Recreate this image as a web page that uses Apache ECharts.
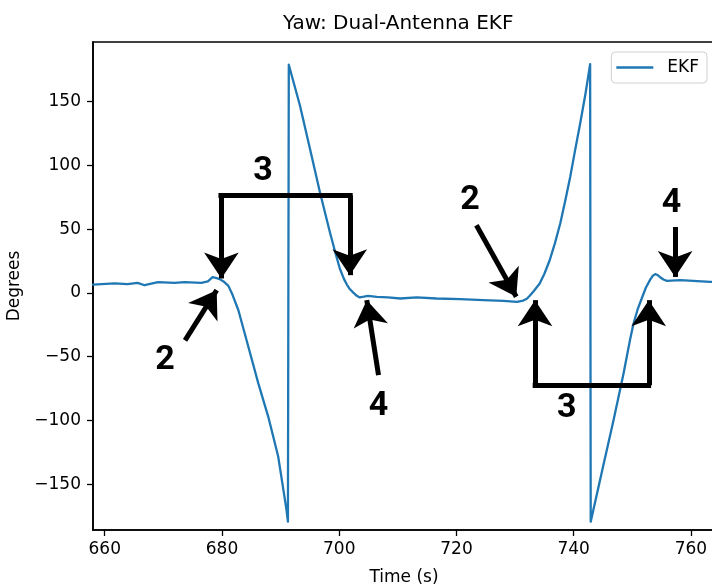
<!DOCTYPE html>
<html>
<head>
<meta charset="utf-8">
<script src="https://cdn.jsdelivr.net/npm/echarts@6/dist/echarts.min.js"></script>
<style>
html,body{margin:0;padding:0;background:#fff;}
#chart{width:712px;height:588px;}
</style>
</head>
<body>
<div id="chart"></div>
<script>
// ---- data ----
const timeValues = [658.0, 658.3, 661.7, 663.9, 665.6, 666.8, 669.1, 671.9, 673.6, 676.5, 677.6, 678.4, 679.1, 679.6, 680.4, 681.1, 681.8, 682.8, 684.5, 686.2, 687.9, 689.6, 691.0, 691.25, 691.4, 693.3, 695.0, 696.7, 698.4, 699.4, 700.1, 700.8, 701.3, 701.8, 702.4, 703.0, 703.5, 704.2, 704.9, 706.4, 708.3, 710.4, 713.2, 716.6, 720.6, 724.6, 728.0, 730.3, 731.4, 732.0, 732.5, 733.2, 734.2, 735.0, 735.9, 736.8, 737.7, 738.5, 739.4, 740.2, 741.1, 742.0, 742.8, 742.9, 745.0, 746.8, 748.5, 749.6, 750.2, 750.9, 751.6, 752.3, 753.0, 753.5, 753.9, 754.3, 754.7, 755.3, 755.9, 758.2, 760.4, 763.3, 764.1];
const yawValues = [6.5, 6.6, 7.4, 6.8, 7.8, 6.0, 8.4, 7.8, 8.4, 7.8, 9.0, 12.3, 11.5, 10.8, 8.5, 5.5, -1.5, -13.6, -42.3, -71.0, -97.2, -128.6, -170.0, -179.5, 179.0, 147.0, 113.2, 79.2, 47.8, 30.5, 19.1, 11.0, 6.5, 3.0, 0.2, -2.3, -3.6, -3.0, -2.3, -3.1, -3.6, -4.4, -3.6, -4.4, -4.9, -5.7, -6.3, -7.1, -6.0, -4.6, -2.2, 1.5, 7.4, 15.0, 25.6, 39.0, 54.4, 71.0, 90.9, 111.0, 132.8, 156.0, 179.5, -179.5, -136.4, -99.8, -63.2, -37.0, -24.0, -13.0, -4.4, 4.0, 10.0, 13.5, 14.7, 14.0, 12.5, 10.5, 9.4, 10.0, 9.4, 8.6, 8.8];
const xTicks = [660, 680, 700, 720, 740, 760];
const yTicks = [-150, -100, -50, 0, 50, 100, 150];
const seriesName = 'EKF';
const chartTitle = 'Yaw: Dual-Antenna EKF';
const xName = 'Time (s)';
const yName = 'Degrees';

// annotation geometry in data coordinates (time, degrees)
const bracketSegments = [
  [[679.4, 76.6], [702.3, 76.6]],
  [[733.0, -72.4], [753.2, -72.4]]
];
const arrowSegments = [
  [[679.9, 76.6], [679.9, 11.3]],
  [[701.8, 76.6], [701.8, 13.9]],
  [[673.7, -37.2], [679.1, 2.1]],
  [[706.7, -64.5], [704.7, -5.7]],
  [[733.4, -72.4], [733.4, -5.7]],
  [[752.8, -72.4], [752.8, -5.7]],
  [[723.4, 53.1], [730.2, -3.1]],
  [[757.3, 51.7], [757.3, 12.5]]
];
const annotationTexts = ['3', '2', '4', '2', '3', '4'];
const annotationX = [687.0, 670.3, 706.7, 722.3, 738.8, 756.7];
const annotationY = [94.9, -52.8, -89.4, 72.7, -90.6, 70.0];

// ---- chart ----
const FONT = 'DejaVu Sans';
const fmtMinus = v => String(v).replace('-', '\u2212');
const chart = echarts.init(document.getElementById('chart'), null, {renderer: 'canvas'});

const lineData = timeValues.map((t, i) => [t, yawValues[i]]);

const markLineData = [];
bracketSegments.forEach(s => {
  markLineData.push([{coord: s[0], symbol: 'none'}, {coord: s[1], symbol: 'none'}]);
});
arrowSegments.forEach(s => {
  markLineData.push([{coord: s[0], symbol: 'none'}, {coord: s[1], symbol: 'arrow', symbolSize: 26}]);
});

const markPointData = annotationTexts.map((txt, i) => ({
  name: txt,
  coord: [annotationX[i], annotationY[i]],
  value: txt
}));

chart.setOption({
  animation: false,
  backgroundColor: '#fff',
  title: {
    text: chartTitle,
    left: 283,
    top: 14,
    padding: 0,
    textStyle: {fontFamily: FONT, fontSize: 20, fontWeight: 'normal', color: '#000'}
  },
  legend: {
    data: [{name: seriesName, icon: 'rect'}],
    right: 5,
    top: 52,
    orient: 'vertical',
    itemWidth: 37,
    itemHeight: 2.5,
    padding: [7, 8, 7, 5],
    backgroundColor: '#fff',
    borderColor: '#d0d0d0',
    borderWidth: 1,
    borderRadius: 4,
    textStyle: {fontFamily: FONT, fontSize: 17, color: '#000', padding: [0, 0, 0, 9]}
  },
  grid: {
    left: 93, top: 42, right: -3, bottom: 58,
    containLabel: false,
    outerBoundsMode: 'none',
    show: true, borderColor: '#000', borderWidth: 1.6, backgroundColor: 'transparent'
  },
  xAxis: {
    type: 'value',
    min: 658, max: 764.1,
    name: xName,
    nameLocation: 'middle',
    nameGap: 39,
    nameTextStyle: {fontFamily: FONT, fontSize: 17, color: '#000'},
    axisLine: {show: true, onZero: false, lineStyle: {color: '#000', width: 1.6}},
    axisTick: {show: true, length: 6, lineStyle: {color: '#000', width: 1.3}, customValues: xTicks},
    axisLabel: {fontFamily: FONT, fontSize: 17, color: '#000', margin: 11, customValues: xTicks, formatter: fmtMinus},
    splitLine: {show: false}
  },
  yAxis: {
    type: 'value',
    min: -186, max: 196.8,
    name: yName,
    nameLocation: 'middle',
    nameGap: 66,
    nameRotate: 90,
    nameTextStyle: {fontFamily: FONT, fontSize: 17, color: '#000'},
    axisLine: {show: true, onZero: false, lineStyle: {color: '#000', width: 1.6}},
    axisTick: {show: true, length: 6, lineStyle: {color: '#000', width: 1.3}, customValues: yTicks},
    axisLabel: {fontFamily: FONT, fontSize: 17, color: '#000', margin: 12, customValues: yTicks, formatter: fmtMinus},
    splitLine: {show: false}
  },
  series: [{
    name: seriesName,
    type: 'line',
    data: lineData,
    showSymbol: false,
    symbol: 'none',
    color: '#1f77b4',
    lineStyle: {color: '#1f77b4', width: 2.3, join: 'round', cap: 'round'},
    emphasis: {disabled: true},
    markLine: {
      silent: true,
      symbol: ['none', 'none'],
      lineStyle: {color: '#000', width: 5, type: 'solid', cap: 'butt'},
      itemStyle: {color: '#000'},
      label: {show: false},
      emphasis: {disabled: true},
      data: markLineData
    },
    markPoint: {
      silent: true,
      symbol: 'circle',
      symbolSize: 1,
      itemStyle: {color: 'rgba(0,0,0,0)'},
      label: {show: true, position: 'inside', formatter: '{b}', fontFamily: 'Roboto', fontWeight: 'bold', fontSize: 34, color: '#000'},
      emphasis: {disabled: true},
      data: markPointData
    }
  }]
});
</script>
</body>
</html>
